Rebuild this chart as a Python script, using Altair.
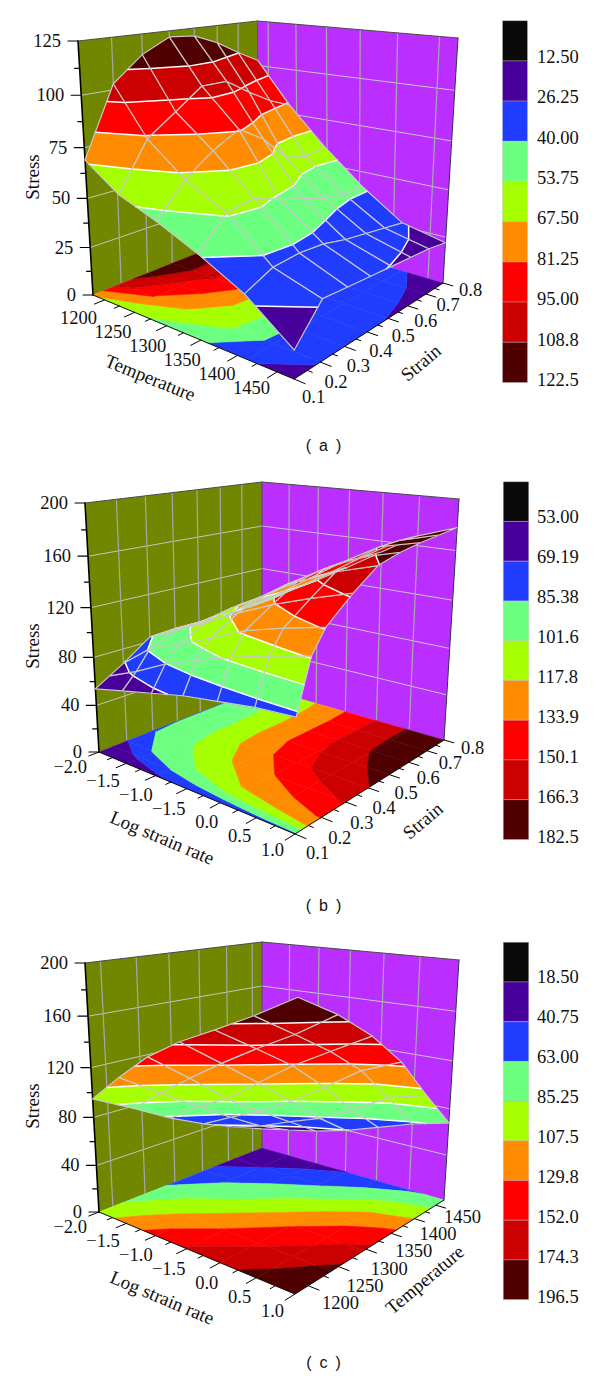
import altair as alt
import pandas as pd

# ---------- values ----------
BAND_COLORS = ["#0a0a0a", "#48009a", "#1f3cff", "#6cff80", "#a6ff00", "#ff8c00", "#ff0000", "#cc0000", "#500000"]
WALL_LEFT = "#718700"
WALL_RIGHT = "#ba2fff"

LEVELS_A = [12.50, 26.25, 40.00, 53.75, 67.50, 81.25, 95.00, 108.8, 122.5]
LABELS_A = ["12.50", "26.25", "40.00", "53.75", "67.50", "81.25", "95.00", "108.8", "122.5"]
LEVELS_B = [53.00, 69.19, 85.38, 101.6, 117.8, 133.9, 150.1, 166.3, 182.5]
LABELS_B = ["53.00", "69.19", "85.38", "101.6", "117.8", "133.9", "150.1", "166.3", "182.5"]
LEVELS_C = [18.50, 40.75, 63.00, 85.25, 107.5, 129.8, 152.0, 174.3, 196.5]
LABELS_C = ["18.50", "40.75", "63.00", "85.25", "107.5", "129.8", "152.0", "174.3", "196.5"]

# stress by first-axis node (rows) and second-axis node (columns)
STRESS_A = [
    [69, 103, 115, 122, 121, 116, 109, 103],
    [57, 80, 90, 100, 100, 92, 85, 80],
    [50, 65, 75, 82, 74, 61, 58, 60],
    [41, 55, 57, 52, 48, 44, 42, 42],
    [30, 36, 37, 36, 33, 31, 29, 27],
    [13, 29, 28, 27, 26, 25, 24, 22],
]
STRAIN_NODES_B = [0.1, 0.15, 0.2, 0.3, 0.4, 0.5, 0.6, 0.7, 0.8]
STRESS_B = [
    [54, 61, 68, 84, 85, 85, 85, 86, 90],
    [60, 72, 87, 96, 97, 97, 98, 100, 103],
    [66, 85, 97, 108, 114, 115, 115, 116, 118],
    [72, 95, 108, 121, 129, 133, 133, 133, 134],
    [76, 104, 120, 133, 145, 149, 151, 151, 151],
    [80, 112, 128, 143, 157, 163, 167, 168, 168],
    [82, 119, 135, 152, 166, 171, 174, 176, 178],
]
STRESS_C = [
    [95, 78, 60, 45, 32, 20],
    [118, 97, 77, 58, 40, 26],
    [139, 115, 90, 70, 51, 32],
    [155, 132, 109, 85, 61, 40],
    [168, 148, 128, 103, 75, 50],
    [182, 163, 144, 122, 92, 60],
    [198, 181, 160, 134, 100, 68],
]

TEMP_TICKS = [1200, 1250, 1300, 1350, 1400, 1450]
STRAIN_TICKS = [0.1, 0.2, 0.3, 0.4, 0.5, 0.6, 0.7, 0.8]
RATE_TICKS = [-2.0, -1.5, -1.0, -0.5, 0.0, 0.5, 1.0]
RATE_LABELS = ["\u22122.0", "\u22121.5", "\u22121.0", "\u22121.5", "0.0", "0.5", "1.0"]
STRAIN_MINOR = [0.15, 0.25, 0.35, 0.45, 0.55, 0.65, 0.75]
TEMP_MINOR = [1225, 1275, 1325, 1375, 1425]
RATE_MINOR = [-1.75, -1.25, -0.75, -0.25, 0.25, 0.75]

# view of each box: floor and top corners as seen on the page
VIEW_A = dict(L=(93, 295), F=(294, 379), R=(443, 283), B=(258, 229),
              Lt=(78, 41), Ft=(297, 79), Rt=(458, 38), Bt=(257.5, 21))
VIEW_B = dict(L=(99, 752), F=(295, 834), R=(444, 740), B=(262, 688),
              Lt=(85, 503), Ft=(298, 534), Rt=(459, 499), Bt=(262, 482))
VIEW_C = dict(L=(99, 1212), F=(295, 1294), R=(444, 1200), B=(262, 1148),
              Lt=(85, 963), Ft=(298, 994), Rt=(459, 960), Bt=(262, 942))

SERIF = "Liberation Serif"
SANS = "Liberation Sans"
DEPTH = 0.92
PAD = 0.07


def homography(p0, p1, p2, p3):
    x0, y0 = p0; x1, y1 = p1; x2, y2 = p2; x3, y3 = p3
    dx1, dx2, sx = x1 - x2, x3 - x2, x0 - x1 + x2 - x3
    dy1, dy2, sy = y1 - y2, y3 - y2, y0 - y1 + y2 - y3
    den = dx1 * dy2 - dx2 * dy1
    g = (sx * dy2 - dx2 * sy) / den
    h = (dx1 * sy - sx * dy1) / den
    a, b, c = x1 - x0 + g * x1, x3 - x0 + h * x3, x0
    d, e, f = y1 - y0 + g * y1, y3 - y0 + h * y3, y0

    def fn(u, v):
        q = g * u + h * v + 1
        return (a * u + b * v + c) / q, (d * u + e * v + f) / q
    return fn


def band_polys(poly, levels):
    """Split a cell polygon [(u, v, s), ...] into colour bands."""
    def clip(pts, lev, keep_above):
        out = []
        for i, p in enumerate(pts):
            q = pts[(i + 1) % len(pts)]
            pin = (p[2] >= lev) == keep_above
            qin = (q[2] >= lev) == keep_above
            if pin:
                out.append(p)
            if pin != qin:
                t = (lev - p[2]) / (q[2] - p[2])
                out.append((p[0] + t * (q[0] - p[0]), p[1] + t * (q[1] - p[1]), lev))
        return out
    res = []
    edges = levels[:8]
    for k in range(9):
        pts = poly
        if k > 0:
            pts = clip(pts, edges[k - 1], True)
        if k < 8 and pts:
            pts = clip(pts, edges[k], False)
        if len(pts) >= 3:
            res.append((k, pts))
    return res


def contour_segments(poly, lev):
    cross = []
    for i, p in enumerate(poly):
        q = poly[(i + 1) % len(poly)]
        if (p[2] >= lev) != (q[2] >= lev):
            t = (lev - p[2]) / (q[2] - p[2])
            cross.append((p[0] + t * (q[0] - p[0]), p[1] + t * (q[1] - p[1]), lev))
    return [(cross[i], cross[i + 1]) for i in range(0, len(cross) - 1, 2)]


def panel(view, grid, v_nodes, levels, labels, smax, smajor, u_vals, u_labels, v_vals, v_labels,
          u_pos, v_pos, u_minor, v_minor, titles, tag, tag_xy, legend, frame, u_lab, v_lab):
    floor = homography(view["L"], view["F"], view["R"], view["B"])
    top = homography(view["Lt"], view["Ft"], view["Rt"], view["Bt"])

    def P(u, v, s=0.0):
        w = s / smax
        wp = DEPTH * w / (1 + (DEPTH - 1) * w)
        fx, fy = floor(u, v)
        tx, ty = top(u, v)
        return fx + wp * (tx - fx), fy + wp * (ty - fy)

    rows = []
    gid = [0]

    def add(points, fill="transparent", stroke="transparent", sw=0.0):
        gid[0] += 1
        for i, (x, y) in enumerate(points):
            rows.append(dict(x=x, y=y, g=gid[0], i=i, fill=fill, stroke=stroke, sw=sw))

    # walls
    add([P(0, 0, 0), P(0, 1, 0), P(0, 1, smax), P(0, 0, smax), P(0, 0, 0)], fill=WALL_LEFT)
    add([P(0, 1, 0), P(1, 1, 0), P(1, 1, smax), P(0, 1, smax), P(0, 1, 0)], fill=WALL_RIGHT)
    # wall grid
    s = smajor
    while s < smax - 1e-6:
        add([P(0, 0, s), P(0, 1, s), P(1, 1, s)], stroke="#c4c4c4", sw=1.0)
        s += smajor
    for v in v_vals:
        t = v_pos(v)
        if 0.01 < t < 0.99:
            add([P(0, t, 0), P(0, t, smax)], stroke="#a8a8a8", sw=1.2)
    for u in u_vals:
        t = u_pos(u)
        if 0.01 < t < 0.99:
            add([P(t, 1, 0), P(t, 1, smax)], stroke="#a8a8a8", sw=1.2)

    # floor map and surface share the same cells
    nu, nv = len(grid), len(grid[0])
    cells = []
    for i in range(nu - 1):
        for j in range(nv - 1):
            uu = [i / (nu - 1), (i + 1) / (nu - 1)]
            vv = [v_nodes[j], v_nodes[j + 1]]
            cells.append((uu[0] + vv[0], [(uu[0], vv[0], grid[i][j]), (uu[1], vv[0], grid[i + 1][j]),
                                          (uu[1], vv[1], grid[i + 1][j + 1]), (uu[0], vv[1], grid[i][j + 1])]))
    cells.sort(key=lambda c: c[0])
    for _, poly in cells:
        for k, pts in band_polys(poly, levels):
            col = BAND_COLORS[k]
            add([P(a, b, 0) for a, b, _ in pts] + [P(pts[0][0], pts[0][1], 0)], fill=col, stroke=col, sw=0.5)

    # box edges and ticks
    add([P(0, 0, 0), P(0, 0, smax)], stroke="#000000", sw=1.6)
    add([P(0, 0, smax), P(0, 1, smax), P(1, 1, smax)], stroke="#4a4a4a", sw=1.0)
    add([P(0, 1, 0), P(0, 1, smax)], stroke="#4a4a4a", sw=0.8)
    add([P(1, 1, 0), P(1, 1, smax)], stroke="#33334a", sw=1.0)
    add([P(0, 0, 0), P(1, 0, 0), P(1, 1, 0)], stroke="#111111", sw=1.0)
    for u in u_minor:
        t = u_pos(u)
        add([P(t, 0, 0), P(t, -0.025, 0)], stroke="#000000", sw=1.0)
    for v in v_minor:
        t = v_pos(v)
        add([P(1, t, 0), P(1.02, t, 0)], stroke="#000000", sw=1.0)
    for u in u_vals:
        t = u_pos(u)
        add([P(t, 0, 0), P(t, -0.05, 0)], stroke="#000000", sw=1.0)
    for v in v_vals:
        t = v_pos(v)
        add([P(1, t, 0), P(1.045, t, 0)], stroke="#000000", sw=1.0)
    s = 0.0
    while s <= smax + 1e-6:
        x, y = P(0, 0, s)
        add([(x, y), (x - 10, y)], stroke="#000000", sw=1.2)
        if s < smax:
            x, y = P(0, 0, s + smajor / 2)
            add([(x, y), (x - 5, y)], stroke="#000000", sw=1.2)
        s += smajor

    # surface, back to front
    for _, poly in cells:
        for k, pts in band_polys(poly, levels):
            col = BAND_COLORS[k]
            add([P(*p) for p in pts] + [P(*pts[0])], fill=col, stroke=col, sw=0.5)
        for lev in levels[:8]:
            for a, b in contour_segments(poly, lev):
                add([P(*a), P(*b)], stroke="#ffffff", sw=1.5)
        add([P(*p) for p in poly] + [P(*poly[0])], stroke="#c9c9c9", sw=1.2)

    shapes = pd.DataFrame(rows)

    # text
    right, left, center = [], [], []
    s = 0.0
    while s <= smax + 1e-6:
        x, y = P(0, 0, s)
        right.append(dict(x=x - 17, y=y, t=f"{s:g}", a=0, z=18.5))
        s += smajor
    nl = len(u_labels) - 1
    for k, lab in enumerate(u_labels):
        f = k / nl
        right.append(dict(x=u_lab[0][0] + f * (u_lab[1][0] - u_lab[0][0]),
                          y=u_lab[0][1] + f * (u_lab[1][1] - u_lab[0][1]), t=lab, a=0, z=18.5))
    nl = len(v_labels) - 1
    for k, lab in enumerate(v_labels):
        f = k / nl
        left.append(dict(x=v_lab[0][0] + f * (v_lab[1][0] - v_lab[0][0]),
                         y=v_lab[0][1] + f * (v_lab[1][1] - v_lab[0][1]), t=lab, a=0, z=18.5))
    for txt, x, y, a in titles:
        center.append(dict(x=x, y=y, t=txt, a=a, z=19))

    lx0, lx1, ltop, lstep, ltx, lty0, ltstep = legend
    boxes = pd.DataFrame([dict(x=lx0, x2=lx1, y=ltop + k * lstep, y2=ltop + (k + 1) * lstep, c=BAND_COLORS[k])
                          for k in range(9)])
    for k, lab in enumerate(labels):
        left.append(dict(x=ltx, y=lty0 + k * ltstep, t=lab, a=0, z=18.5))

    x_s = alt.Scale(domain=[8, 592], nice=False, zero=False)
    y_s = alt.Scale(domain=[frame[1], frame[0]], nice=False, zero=False)
    X = alt.X("x:Q", scale=x_s, axis=None)
    Y = alt.Y("y:Q", scale=y_s, axis=None)

    base = alt.Chart(shapes).mark_line(strokeJoin="round", strokeCap="round", clip=False).encode(
        x=X, y=Y,
        detail="g:N",
        order="i:Q",
        fill=alt.Fill("fill:N", scale=None),
        stroke=alt.Stroke("stroke:N", scale=None),
        strokeWidth=alt.StrokeWidth("sw:Q", scale=None),
    )
    rect = alt.Chart(boxes).mark_rect().encode(
        x=X, x2="x2:Q", y=Y, y2="y2:Q", fill=alt.Fill("c:N", scale=None), stroke=alt.value("#bdbdbd"),
        strokeWidth=alt.value(0.4),
    )

    def text_layer(data, align, font):
        return alt.Chart(pd.DataFrame(data)).mark_text(
            align=align, baseline="middle", font=font, color="#111111").encode(
            x=X, y=Y, text="t:N",
            angle=alt.Angle("a:Q", scale=None),
            size=alt.Size("z:Q", scale=None),
        )
    tag_row = [dict(x=tag_xy[0], y=tag_xy[1], t=tag, a=0, z=16)]
    return alt.layer(base, rect, text_layer(right, "right", SERIF), text_layer(left, "left", SERIF),
                     text_layer(center, "center", SERIF), text_layer(tag_row, "center", SANS)).properties(
        width=584, height=frame[1] - frame[0])


def temp_pos(t):
    return PAD + (1 - 2 * PAD) * (t - 1200) / 250


def strain_pos(s):
    return (s - 0.1) / 0.7


def rate_pos(r):
    return (r + 2) / 3


strain_labels = [f"{s:.1f}" for s in STRAIN_TICKS]
temp_labels = [str(t) for t in TEMP_TICKS]
NODES_8 = [k / 7 for k in range(8)]
NODES_6 = [k / 5 for k in range(6)]

a = panel(VIEW_A, STRESS_A, NODES_8, LEVELS_A, LABELS_A, 125, 25, TEMP_TICKS, temp_labels, STRAIN_TICKS, strain_labels,
          temp_pos, strain_pos, TEMP_MINOR, STRAIN_MINOR,
          [("Stress", 33, 177, 270), ("Temperature", 150, 378, 22), ("Strain", 421, 363, 320)],
          "(\u2002a\u2002)", (323.5, 446), (502.5, 527.5, 20.7, 40.2, 537, 56.7, 40.4), (8, 463),
          ((97, 318), (270, 388)), ((302, 397), (459, 290)))
b = panel(VIEW_B, STRESS_B, [strain_pos(s) for s in STRAIN_NODES_B], LEVELS_B, LABELS_B, 200, 40, RATE_TICKS, RATE_LABELS,
          STRAIN_TICKS, strain_labels,
          rate_pos, strain_pos, RATE_MINOR, STRAIN_MINOR,
          [("Stress", 33, 646, 270), ("Log strain rate", 162, 838, 23), ("Strain", 423, 821, 320)],
          "(\u2002b\u2002)", (323.5, 906), (503.3, 528.7, 481.7, 39.75, 537, 516.7, 40), (463, 918),
          ((87, 767), (284, 850)), ((306, 853), (461, 748)))
c = panel(VIEW_C, STRESS_C, NODES_6, LEVELS_C, LABELS_C, 200, 40, RATE_TICKS, RATE_LABELS, TEMP_TICKS, temp_labels,
          rate_pos, temp_pos, RATE_MINOR, TEMP_MINOR,
          [("Stress", 33, 1106, 270), ("Log strain rate", 162, 1298, 23), ("Temperature", 425, 1280, 320)],
          "(\u2002c\u2002)", (323.5, 1363), (503.3, 528.7, 942.3, 39.7, 537, 976.7, 40), (918, 1374),
          ((87, 1227), (284, 1311)), ((322, 1303), (444, 1217)))

chart = alt.vconcat(a, b, c, spacing=0).properties(padding=0).configure_view(stroke=None)
chart.save("out.html", embed_options={"renderer": "svg", "actions": False})
